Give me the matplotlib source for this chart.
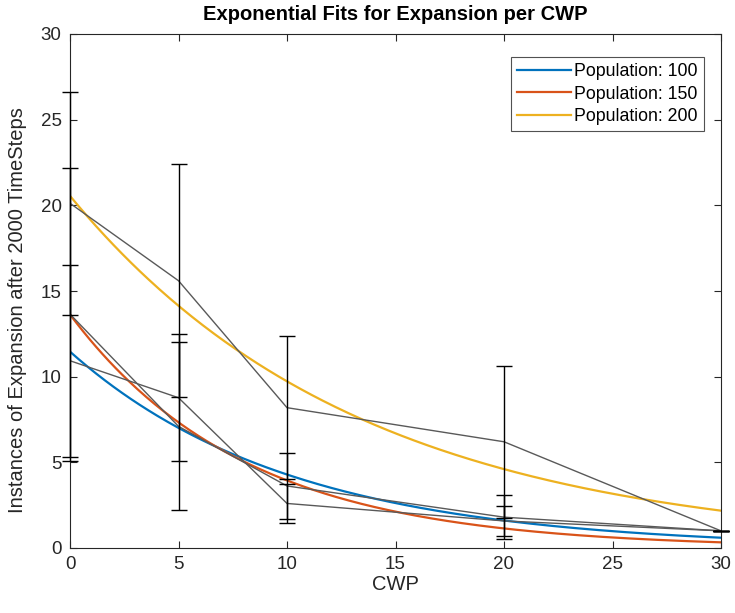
import numpy as np
import matplotlib
matplotlib.use("Agg")
import matplotlib.pyplot as plt

plt.rcParams['font.family'] = ['Liberation Sans', 'DejaVu Sans']

cwp = [0, 5, 10, 20, 30]

pop100_mean = [10.93, 8.77, 2.60, 1.58, 1.0]
pop100_std = [5.60, 3.70, 1.15, 0.87, 0.0]
pop150_mean = [13.65, 7.10, 3.62, 1.80, 1.0]
pop150_std = [8.55, 4.90, 1.95, 1.29, 0.0]
pop200_mean = [20.12, 15.60, 8.19, 6.20, 1.0]
pop200_std = [6.50, 6.80, 4.17, 4.45, 0.0]

# exponential fit coefficients y = a * exp(b * x)
fit_labels = ["Population: 100", "Population: 150", "Population: 200"]
fit_a = [11.46, 13.63, 20.55]
fit_b = [-0.0983, -0.124, -0.0748]
fit_colors = ["#0072BD", "#D95319", "#EDB120"]

axcol = (0.15, 0.15, 0.15)

fig = plt.figure(figsize=(7.35, 6.13), dpi=100)
ax = fig.add_axes([70/735, 65/613, (721-70)/735, (548-34)/613])

xs = np.linspace(0, 30, 300)
for a, b, c, lab in zip(fit_a, fit_b, fit_colors, fit_labels):
    ax.plot(xs, a*np.exp(b*xs), color=c, lw=1.6, label=lab, zorder=2)

for m, s in [(pop100_mean, pop100_std), (pop150_mean, pop150_std), (pop200_mean, pop200_std)]:
    ax.plot(cwp, m, color=(0.35, 0.35, 0.35), lw=1.0, zorder=3)
    eb = ax.errorbar(cwp, m, yerr=s, fmt='none', ecolor='black', elinewidth=1.0,
                     capsize=6, capthick=1.0, zorder=4)
    for art in list(eb.lines[1]) + list(eb.lines[2]):
        art.set_clip_on(False)

ax.set_xlim(0, 30)
ax.set_ylim(0, 30)
ax.set_xticks([0, 5, 10, 15, 20, 25, 30])
ax.set_yticks([0, 5, 10, 15, 20, 25, 30])
ax.tick_params(direction='in', length=5, width=0.8, colors=axcol, labelsize=13.5,
               top=True, right=True, pad=6)
for sp in ax.spines.values():
    sp.set_color(axcol)
    sp.set_linewidth(0.8)

ax.set_xlabel("CWP", fontsize=14.5, color=axcol, labelpad=1)
ax.set_ylabel("Instances of Expansion after 2000 TimeSteps", fontsize=14.5, color=axcol)
ax.yaxis.set_label_coords(-0.066, 0.463)
ax.set_title("Exponential Fits for Expansion per CWP", fontsize=14.5, fontweight='bold',
             color='black', pad=10)

leg = ax.legend(loc='upper right', bbox_to_anchor=(0.974, 0.955), fontsize=12.8,
                frameon=True, fancybox=False, edgecolor=axcol, handlelength=3.0,
                handletextpad=0.2, borderpad=0.35, labelspacing=0.3, borderaxespad=0)
leg.get_frame().set_linewidth(0.8)

fig.savefig("out.png", dpi=100)
